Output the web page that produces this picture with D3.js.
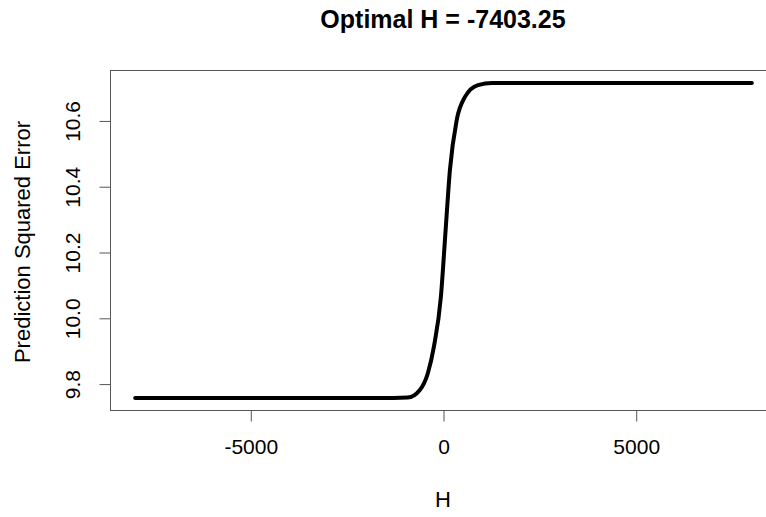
<!DOCTYPE html>
<html>
<head>
<meta charset="utf-8">
<script src="https://cdn.jsdelivr.net/npm/d3@7"></script>
<style>
  html, body { margin: 0; padding: 0; background: #fff; }
  svg { display: block; }
  text { font-family: "Liberation Sans", Arial, Helvetica, sans-serif; fill: #000; }
</style>
</head>
<body>
<svg id="chart" width="766" height="517"></svg>
<script>
// ---- data ----
const hValues   = [-8000, -6000, -4000, -2000, -1300, -926, -614, -406, -250, -68, 55, 166, 341, 557, 895, 1259, 2000, 4000, 6000, 8000];
const errValues = [9.758, 9.758, 9.758, 9.758, 9.758, 9.759, 9.782, 9.833, 9.913, 10.065, 10.268, 10.450, 10.602, 10.673, 10.709, 10.715, 10.715, 10.715, 10.715, 10.715];
const xTicks = [-5000, 0, 5000];
const yTicks = [9.8, 10.0, 10.2, 10.4, 10.6];
const yTickLabels = ["9.8", "10.0", "10.2", "10.4", "10.6"];
const titleText = "Optimal H = -7403.25";
const xLabel = "H";
const yLabel = "Prediction Squared Error";

// ---- layout ----
const plot = { left: 110.5, right: 776.5, top: 70.5, bottom: 410.5 };
const svg = d3.select("#chart");

// R-style 4% padding of data range
const xMin = d3.min(hValues), xMax = d3.max(hValues);
const yMin = d3.min(errValues), yMax = d3.max(errValues);
const xPad = (xMax - xMin) * 0.04, yPad = (yMax - yMin) * 0.04;

const x = d3.scaleLinear().domain([xMin - xPad, xMax + xPad]).range([plot.left, plot.right]);
const y = d3.scaleLinear().domain([yMin - yPad, yMax + yPad]).range([plot.bottom, plot.top]);

// plot box
svg.append("rect")
  .attr("x", plot.left).attr("y", plot.top)
  .attr("width", plot.right - plot.left).attr("height", plot.bottom - plot.top)
  .attr("fill", "none").attr("stroke", "#555").attr("stroke-width", 1);

// curve
const line = d3.line()
  .x((d, i) => x(hValues[i]))
  .y((d, i) => y(errValues[i]))
  .curve(d3.curveMonotoneX);

svg.append("path")
  .datum(hValues)
  .attr("d", line)
  .attr("fill", "none")
  .attr("stroke", "#000")
  .attr("stroke-width", 4)
  .attr("stroke-linecap", "round")
  .attr("stroke-linejoin", "round");

// x axis
const xAxis = d3.axisBottom(x).tickValues(xTicks).tickSize(11).tickPadding(18)
  .tickFormat(d3.format("d"));
const gx = svg.append("g").attr("transform", `translate(0,${plot.bottom})`).call(xAxis);
gx.select(".domain").remove();
gx.append("line")
  .attr("x1", x(xTicks[0])).attr("x2", x(xTicks[xTicks.length - 1]))
  .attr("y1", 0).attr("y2", 0).attr("stroke", "#555");
gx.selectAll(".tick line").attr("stroke", "#555");
gx.selectAll(".tick text")
  .attr("font-size", 21)
  .attr("font-family", "Liberation Sans, Arial, sans-serif")
  .attr("fill", "#000")
  .text(d => d < 0 ? "-" + Math.abs(d) : String(d));

// y axis (labels rotated, R style)
const yAxis = d3.axisLeft(y).tickValues(yTicks).tickSize(11).tickFormat((d, i) => yTickLabels[i]);
const gy = svg.append("g").attr("transform", `translate(${plot.left},0)`).call(yAxis);
gy.select(".domain").remove();
gy.append("line")
  .attr("x1", 0).attr("x2", 0)
  .attr("y1", y(yTicks[0])).attr("y2", y(yTicks[yTicks.length - 1])).attr("stroke", "#555");
gy.selectAll(".tick line").attr("stroke", "#555");
gy.selectAll(".tick text")
  .attr("font-size", 21)
  .attr("font-family", "Liberation Sans, Arial, sans-serif")
  .attr("fill", "#000")
  .attr("x", null).attr("dy", null)
  .attr("text-anchor", "middle")
  .attr("transform", "translate(-38,0) rotate(-90)")
  .attr("dominant-baseline", "central");

// title
svg.append("text")
  .attr("x", 443)
  .attr("y", 28)
  .attr("text-anchor", "middle")
  .attr("font-size", 25)
  .attr("font-weight", "bold")
  .text(titleText);

// x label
svg.append("text")
  .attr("x", 443).attr("y", 499)
  .attr("text-anchor", "middle")
  .attr("dominant-baseline", "central")
  .attr("font-size", 22)
  .text(xLabel);

// y label
svg.append("text")
  .attr("transform", `translate(22,242) rotate(-90)`)
  .attr("text-anchor", "middle")
  .attr("dominant-baseline", "central")
  .attr("font-size", 22)
  .text(yLabel);
</script>
</body>
</html>
